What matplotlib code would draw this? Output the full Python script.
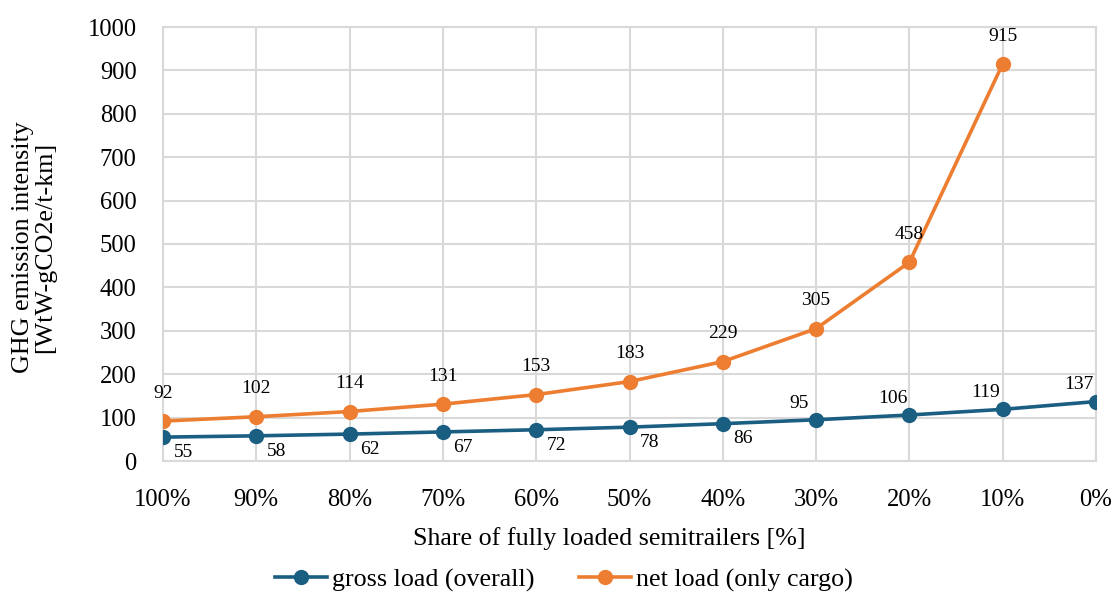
import matplotlib
matplotlib.use("Agg")
import matplotlib.pyplot as plt

categories = ["100%", "90%", "80%", "70%", "60%", "50%", "40%", "30%", "20%", "10%", "0%"]
gross = [55, 58, 62, 67, 72, 78, 86, 95, 106, 119, 137]
net = [92, 102, 114, 131, 153, 183, 229, 305, 458, 915]
y_ticks = [0, 100, 200, 300, 400, 500, 600, 700, 800, 900, 1000]

BLUE = "#1a5e82"
ORANGE = "#ed7d31"
GRID = "#d9d9d9"
FONT = "Liberation Serif"

plt.rcParams["font.family"] = [FONT, "DejaVu Serif"]

W, H = 1115, 594
fig = plt.figure(figsize=(W / 100, H / 100), dpi=100)
L, R, B, T = 163, 1096, 461, 27
ax = fig.add_axes([L / W, 1 - B / H, (R - L) / W, (B - T) / H])

xg = list(range(len(gross)))
xn = list(range(len(net)))
ax.plot(xg, gross, color=BLUE, lw=2.6, marker="o", ms=10, label="gross load (overall)", zorder=3)
ax.plot(xn, net, color=ORANGE, lw=2.6, marker="o", ms=10, label="net load (only cargo)", zorder=3)

ax.set_xlim(0, len(categories) - 1)
ax.set_ylim(0, 1000)
ax.set_xticks(xg)
ax.set_xticklabels(categories)
ax.set_yticks(y_ticks)
ax.tick_params(axis="both", length=0, labelsize=17.7)
ax.tick_params(axis="x", pad=20)
ax.tick_params(axis="y", pad=19)
ax.grid(True, color=GRID, lw=1.5)
ax.set_axisbelow(True)
for s in ax.spines.values():
    s.set_color(GRID)
    s.set_linewidth(1.5)

for i, v in enumerate(gross):
    if i <= 6:
        ax.annotate(str(v), (i, v), xytext=(14.5, -11), textcoords="offset points",
                    ha="center", va="center", fontsize=14)
    else:
        ax.annotate(str(v), (i, v), xytext=(-12, 12), textcoords="offset points",
                    ha="center", va="center", fontsize=14)
for i, v in enumerate(net):
    ax.annotate(str(v), (i, v), xytext=(0, 20), textcoords="offset points",
                ha="center", va="center", fontsize=14)

ax.set_xlabel("Share of fully loaded semitrailers [%]", fontsize=18.7)
ax.xaxis.set_label_coords((609 - L) / (R - L), -(539 - B) / (B - T))
ax.xaxis.label.set_va("center")
ax.set_ylabel("GHG emission intensity\n[WtW-gCO2e/t-km]", fontsize=18.7, linespacing=1.05)
ax.yaxis.set_label_coords(-(L - 34) / (R - L), (B - 247) / (B - T))
ax.yaxis.label.set_va("center")

fig.legend(*ax.get_legend_handles_labels(), loc="center",
           bbox_to_anchor=(564 / W, 1 - 580 / H), ncol=2, frameon=False,
           fontsize=18.7, handlelength=2.0, columnspacing=1.7, handletextpad=0.2,
           borderaxespad=0, borderpad=0)

fig.savefig("out.png", dpi=100)
